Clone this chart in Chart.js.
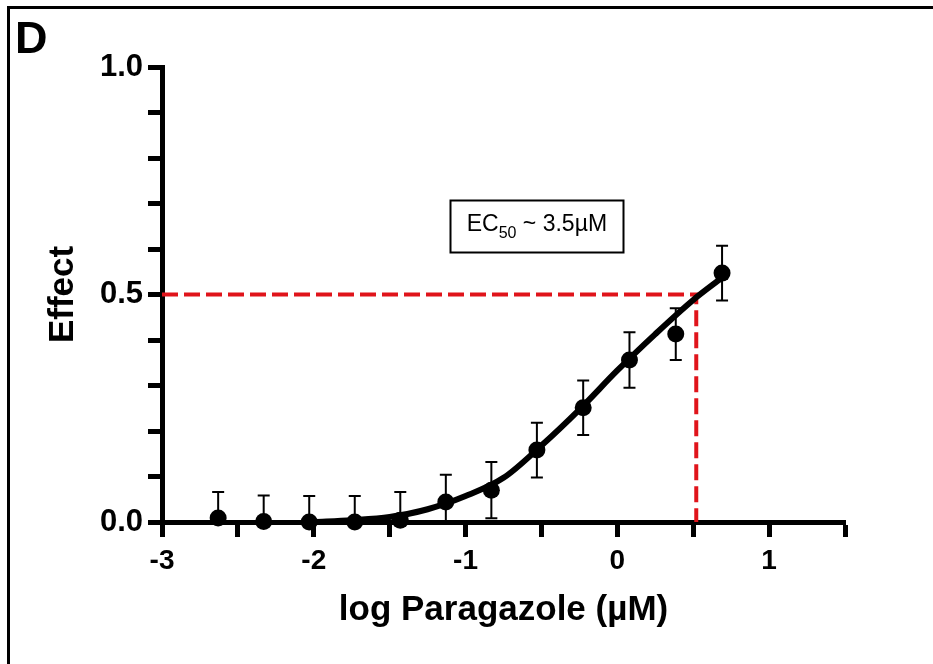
<!DOCTYPE html>
<html>
<head>
<meta charset="utf-8">
<script src="https://cdn.jsdelivr.net/npm/chart.js@4"></script>
<style>
  html, body { margin: 0; padding: 0; background: #fff; }
  canvas { display: block; }
</style>
</head>
<body>
<canvas id="doseChart" width="933" height="664"></canvas>
<script>
// ======================
// Data
// ======================
const logDose = [-2.63, -2.33, -2.03, -1.73, -1.43, -1.13, -0.83, -0.53, -0.225, 0.08, 0.385, 0.69];
const effect  = [0.009, 0.001, 0.0, 0.0, 0.004, 0.044, 0.070, 0.158, 0.251, 0.356, 0.413, 0.547];
const effectSd = [0.057, 0.057, 0.057, 0.057, 0.062, 0.060, 0.062, 0.060, 0.060, 0.061, 0.057, 0.060];

// fitted curve
const fitX = [-2.0, -1.75, -1.5, -1.25, -1.0, -0.75, -0.5, -0.25, 0.0, 0.25, 0.5, 0.69];
const fitY = [0.0, 0.004, 0.011, 0.028, 0.057, 0.097, 0.168, 0.247, 0.333, 0.413, 0.488, 0.537];

// EC50 guide line
const guideX = [-3, 0.52, 0.52];
const guideY = [0.5, 0.5, 0];

const xTicks = [-3, -2, -1, 0, 1];
const yTicks = [0, 0.5, 1];

const panelLabel = "D";
const ecLabel = { main: "EC", sub: "50", rest: " ~ 3.5\u00b5M", x: -0.53, y: 0.65 };

const FONT = '"Liberation Sans", Arial, Helvetica, sans-serif';
Chart.defaults.font.family = FONT;
Chart.defaults.color = "#000";

// error bars + frame + labels
const extrasPlugin = {
    id: "extras",
    beforeDatasetsDraw(chart) {
        const ctx = chart.ctx;
        const xs = chart.scales.x, ys = chart.scales.y;
        ctx.save();
        ctx.strokeStyle = "#000";
        ctx.lineWidth = 2;
        logDose.forEach((d, i) => {
            const px = xs.getPixelForValue(d);
            const top = ys.getPixelForValue(effect[i] + effectSd[i]);
            const bot = ys.getPixelForValue(Math.max(0, effect[i] - effectSd[i]));
            ctx.beginPath();
            ctx.moveTo(px, top); ctx.lineTo(px, bot);
            ctx.moveTo(px - 6, top); ctx.lineTo(px + 6, top);
            if (effect[i] - effectSd[i] > 0) {
                ctx.moveTo(px - 6, bot); ctx.lineTo(px + 6, bot);
            }
            ctx.stroke();
        });
        ctx.restore();
    },
    afterDraw(chart) {
        const ctx = chart.ctx;
        const xs = chart.scales.x, ys = chart.scales.y;
        ctx.save();
        // frame (left + top only)
        ctx.strokeStyle = "#000";
        ctx.lineWidth = 3;
        ctx.beginPath();
        ctx.moveTo(8.5, 664); ctx.lineTo(8.5, 7.5); ctx.lineTo(933, 7.5);
        ctx.stroke();

        // panel letter
        ctx.fillStyle = "#000";
        ctx.font = "bold 45px " + FONT;
        ctx.textBaseline = "alphabetic";
        ctx.textAlign = "left";
        ctx.fillText(panelLabel, 15, 53);

        // EC50 box
        const cx = xs.getPixelForValue(ecLabel.x);
        const cy = ys.getPixelForValue(ecLabel.y);
        const bw = 173, bh = 52;
        ctx.lineWidth = 2;
        ctx.strokeRect(Math.round(cx - bw / 2) + 0.5, Math.round(cy - bh / 2) + 0.5, bw, bh);
        const big = "23px " + FONT, small = "16px " + FONT;
        ctx.font = big; const w1 = ctx.measureText(ecLabel.main).width;
        const w3 = ctx.measureText(ecLabel.rest).width;
        ctx.font = small; const w2 = ctx.measureText(ecLabel.sub).width;
        let tx = cx - (w1 + w2 + w3) / 2;
        const base = cy + 5;
        ctx.font = big; ctx.fillText(ecLabel.main, tx, base); tx += w1;
        ctx.font = small; ctx.fillText(ecLabel.sub, tx, base + 7); tx += w2;
        ctx.font = big; ctx.fillText(ecLabel.rest, tx, base);
        ctx.restore();
    }
};

const ctx = document.getElementById("doseChart").getContext("2d");
new Chart(ctx, {
    type: "scatter",
    data: {
        datasets: [
            {
                label: "Effect",
                data: logDose.map((d, i) => ({ x: d, y: effect[i] })),
                pointRadius: 8.5,
                pointBackgroundColor: "#000",
                pointBorderWidth: 0,
                showLine: false,
                clip: false
            },
            {
                label: "Fit",
                data: fitX.map((d, i) => ({ x: d, y: fitY[i] })),
                showLine: true,
                pointRadius: 0,
                borderColor: "#000",
                borderWidth: 6,
                cubicInterpolationMode: "monotone"
            },
            {
                label: "EC50",
                data: guideX.map((d, i) => ({ x: d, y: guideY[i] })),
                showLine: true,
                pointRadius: 0,
                borderColor: "#e0141b",
                borderWidth: 4,
                borderDash: [16, 6],
                borderCapStyle: "butt",
                tension: 0,
                clip: false
            }
        ]
    },
    options: {
        responsive: false,
        animation: false,
        events: [],
        layout: { padding: { left: 0, right: 88, top: 67, bottom: 0 } },
        plugins: { legend: { display: false }, tooltip: { enabled: false } },
        scales: {
            x: {
                type: "linear",
                min: -3, max: 1.5,
                afterFit: s => { s.height = 142; },
                border: { display: true, width: 5, color: "#000" },
                grid: { drawOnChartArea: false, drawTicks: true, tickLength: 15, tickWidth: 5, tickColor: "#000" },
                ticks: {
                    stepSize: 0.5,
                    autoSkip: false,
                    maxRotation: 0,
                    padding: 7,
                    font: { size: 28, weight: "bold" },
                    callback: v => xTicks.some(t => Math.abs(t - v) < 1e-6) ? String(Math.round(v)) : ""
                },
                title: {
                    display: true,
                    text: "log Paragazole (\u00b5M)",
                    font: { size: 35, weight: "bold" },
                    padding: { top: 0, bottom: 33 }
                }
            },
            y: {
                type: "linear",
                min: 0, max: 1,
                afterFit: s => { s.width = 162; },
                border: { display: true, width: 5, color: "#000" },
                grid: { drawOnChartArea: false, drawTicks: true, tickLength: 14, tickWidth: 5, tickColor: "#000" },
                ticks: {
                    stepSize: 0.1,
                    autoSkip: false,
                    padding: 5,
                    font: { size: 31, weight: "bold" },
                    callback: v => yTicks.some(t => Math.abs(t - v) < 1e-6) ? v.toFixed(1) : ""
                },
                title: {
                    display: true,
                    text: "Effect",
                    font: { size: 35, weight: "bold" },
                    padding: { top: 42, bottom: 0 }
                }
            }
        }
    },
    plugins: [extrasPlugin]
});
</script>
</body>
</html>
